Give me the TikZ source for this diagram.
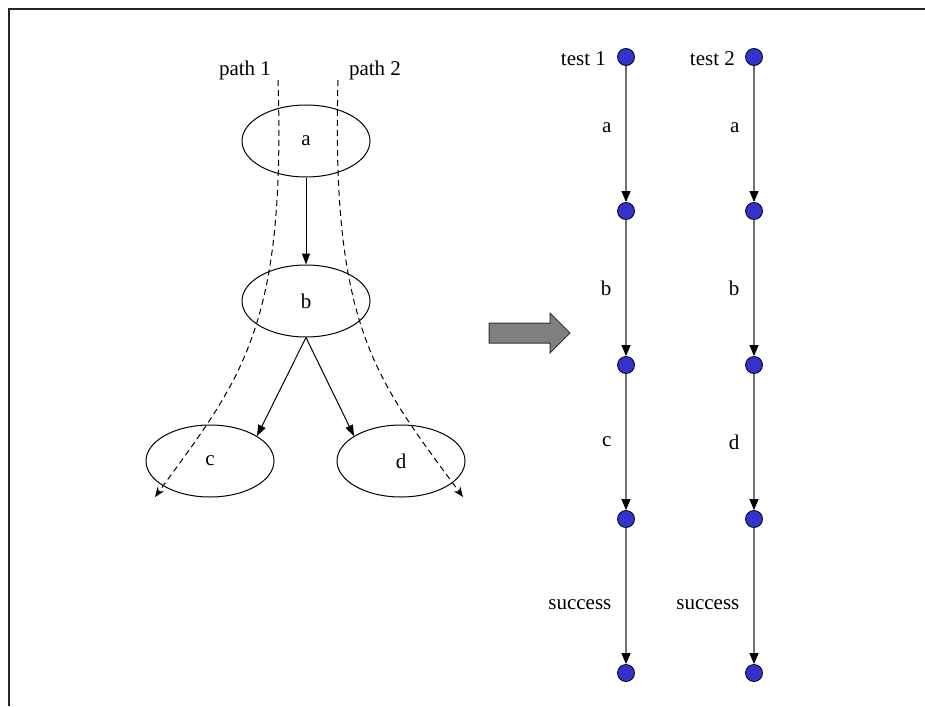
\documentclass[tikz,border=0pt]{standalone}
\usepackage{fontspec}
\setmainfont{Liberation Serif}
\usepackage{tikz}
\usetikzlibrary{positioning}
\usetikzlibrary{shapes.geometric}
\usetikzlibrary{arrows.meta}
\usepackage{xcolor}
\definecolor{dotblue}{RGB}{51,51,204}
\definecolor{edgegray}{RGB}{112,112,112}

\begin{document}
\begin{tikzpicture}[x=1pt, y=-1pt,
	every node/.style={font=\fontsize{21}{25}\selectfont},
	block/.style={draw, ellipse, line width=1pt, minimum width=128pt, minimum height=72pt, inner sep=0pt},
	flow/.style={draw, line width=1pt, -{Triangle[length=11pt,width=8pt]}},
	trail/.style={draw, line width=1pt, dash pattern=on 6pt off 4pt, -{Stealth[length=10pt,width=8pt]}},
	state/.style={circle, draw, line width=0.8pt, fill=dotblue, minimum size=17pt, inner sep=0pt},
	testedge/.style={draw=edgegray, line width=1.2pt, -{Triangle[color=black,length=11pt,width=9pt]}},
	lbl/.style={inner sep=0pt}]
			\useasboundingbox (0,0) rectangle (925,706);
			\draw[line width=2pt, black!85] (925,9) -- (9,9) -- (9,706);
			\node[block] (a) at (306,141) {a};
			\node[block] (b) at (306,301) {b};
			\node[block] (c) at (210,461) {c};
			\node[block] (d) at (401,461) {d};
			\draw[flow] (a) -- (b);
			\draw[flow] (b.south) -- (c.28);
			\draw[flow] (b.south) -- (d.152);
			\node (p1) at (245,70) {path 1};
			\node (p2) at (375,70) {path 2};
			\coordinate (p1s) at (278,80);
			\coordinate (p1e) at (155,497);
			\coordinate (p2s) at (338,80);
			\coordinate (p2e) at (463,497);
			\draw[trail] (p1s) .. controls (286,330) and (240,380) .. (p1e);
			\draw[trail] (p2s) .. controls (331,330) and (377,380) .. (p2e);
			\filldraw[fill=gray, draw=black!80, line width=1pt] (489,323) -- (550,323) -- (550,313) -- (570,333) -- (550,353) -- (550,343) -- (489,343) -- cycle;
			\foreach \i in {0,...,4} {
				\node[state] (s\i) at (626,57+154*\i) {};
				\node[state] (t\i) at (754,57+154*\i) {};
			}
			\node[lbl, left=11pt of s0, yshift=-2pt] (test1) {test 1};
			\node[lbl, left=10pt of t0, yshift=-2pt] (test2) {test 2};
			\foreach \i/\j/\u/\v/\p in {0/1/a/a/0.45, 1/2/b/b/0.5, 2/3/c/d/0.5, 3/4/success/success/0.56} {
				\draw[testedge] (s\i) -- node[lbl, left=14pt, pos=\p] {\u} (s\j);
				\draw[testedge] (t\i) -- node[lbl, left=14pt, pos=\p] {\v} (t\j);
			}
\end{tikzpicture}
\end{document}
